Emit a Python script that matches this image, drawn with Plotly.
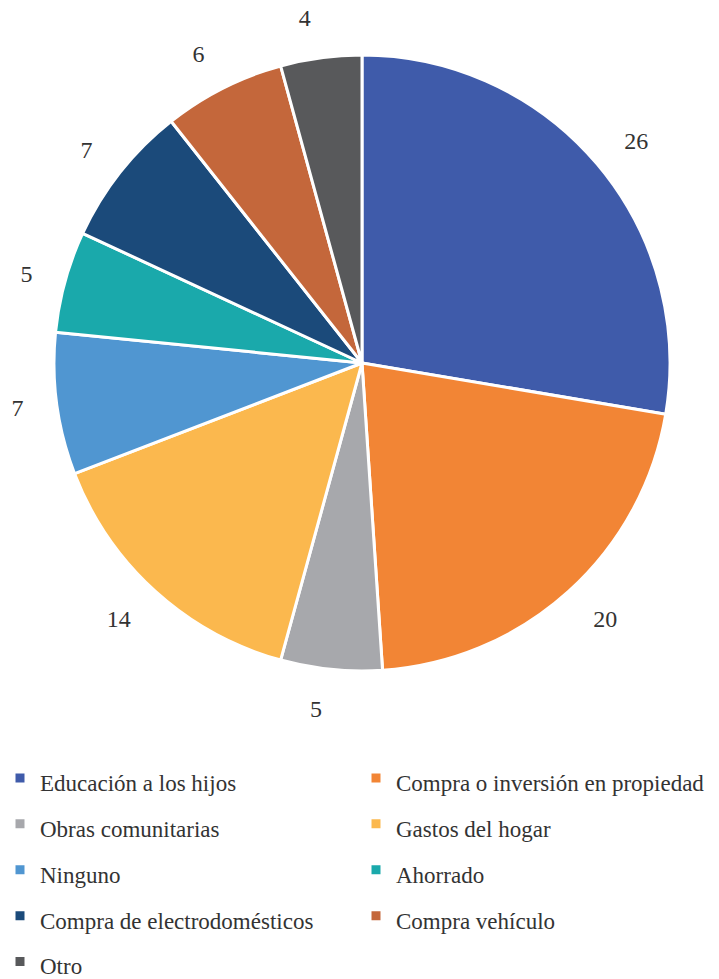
import plotly.graph_objects as go

labels = [
    'Educación a los hijos',
    'Compra o inversión en propiedad',
    'Obras comunitarias',
    'Gastos del hogar',
    'Ninguno',
    'Ahorrado',
    'Compra de electrodomésticos',
    'Compra vehículo',
    'Otro',
]
values = [26, 20, 5, 14, 7, 5, 7, 6, 4]
colors = ['#3F5BAA', '#F28535', '#A7A8AC', '#FBB84E', '#5096D1',
          '#1AA9AB', '#1B4A7A', '#C4673B', '#58595B']

W, H = 719, 979
cx, cy = 362, 363      # pie centre in px
r_pie = 308            # visible pie radius
r_lbl = 335            # ghost pie used only to push value labels further out
FONT = 'Liberation Serif'


def dom(r):
    return dict(x=[(cx - r) / W, (cx + r) / W],
                y=[1 - (cy + r) / H, 1 - (cy - r) / H])


fig = go.Figure()

# ghost pie: transparent, carries the value labels
fig.add_trace(go.Pie(
    labels=labels, values=values, sort=False, direction='clockwise', rotation=0,
    domain=dom(r_lbl),
    marker=dict(colors=['rgba(0,0,0,0)'] * len(values), line=dict(width=0)),
    textinfo='value', textposition='outside',
    textfont=dict(family=FONT, size=24, color='#333333'),
    showlegend=False, hoverinfo='skip',
))

# real pie
fig.add_trace(go.Pie(
    labels=[f"<span style='font-size:23px'>{l}</span>" for l in labels],
    values=values, sort=False, direction='clockwise', rotation=0,
    domain=dom(r_pie),
    marker=dict(colors=colors, line=dict(color='white', width=3)),
    textinfo='none',
))

# big legend font only sets the row pitch; the span above sets the visible size
fig.update_layout(
    width=W, height=H,
    margin=dict(l=0, r=0, t=0, b=0, autoexpand=False),
    paper_bgcolor='white',
    font=dict(family=FONT, color='#333333'),
    legend=dict(
        orientation='h', x=0, xanchor='left', y=1 - 750 / H, yanchor='top',
        entrywidth=311, entrywidthmode='pixels',
        font=dict(family=FONT, size=33, color='#333333'),
        maxheight=1,
    ),
)

fig.write_html("out.html", config={'displayModeBar': False},
               post_script="document.body.style.margin='0';")
